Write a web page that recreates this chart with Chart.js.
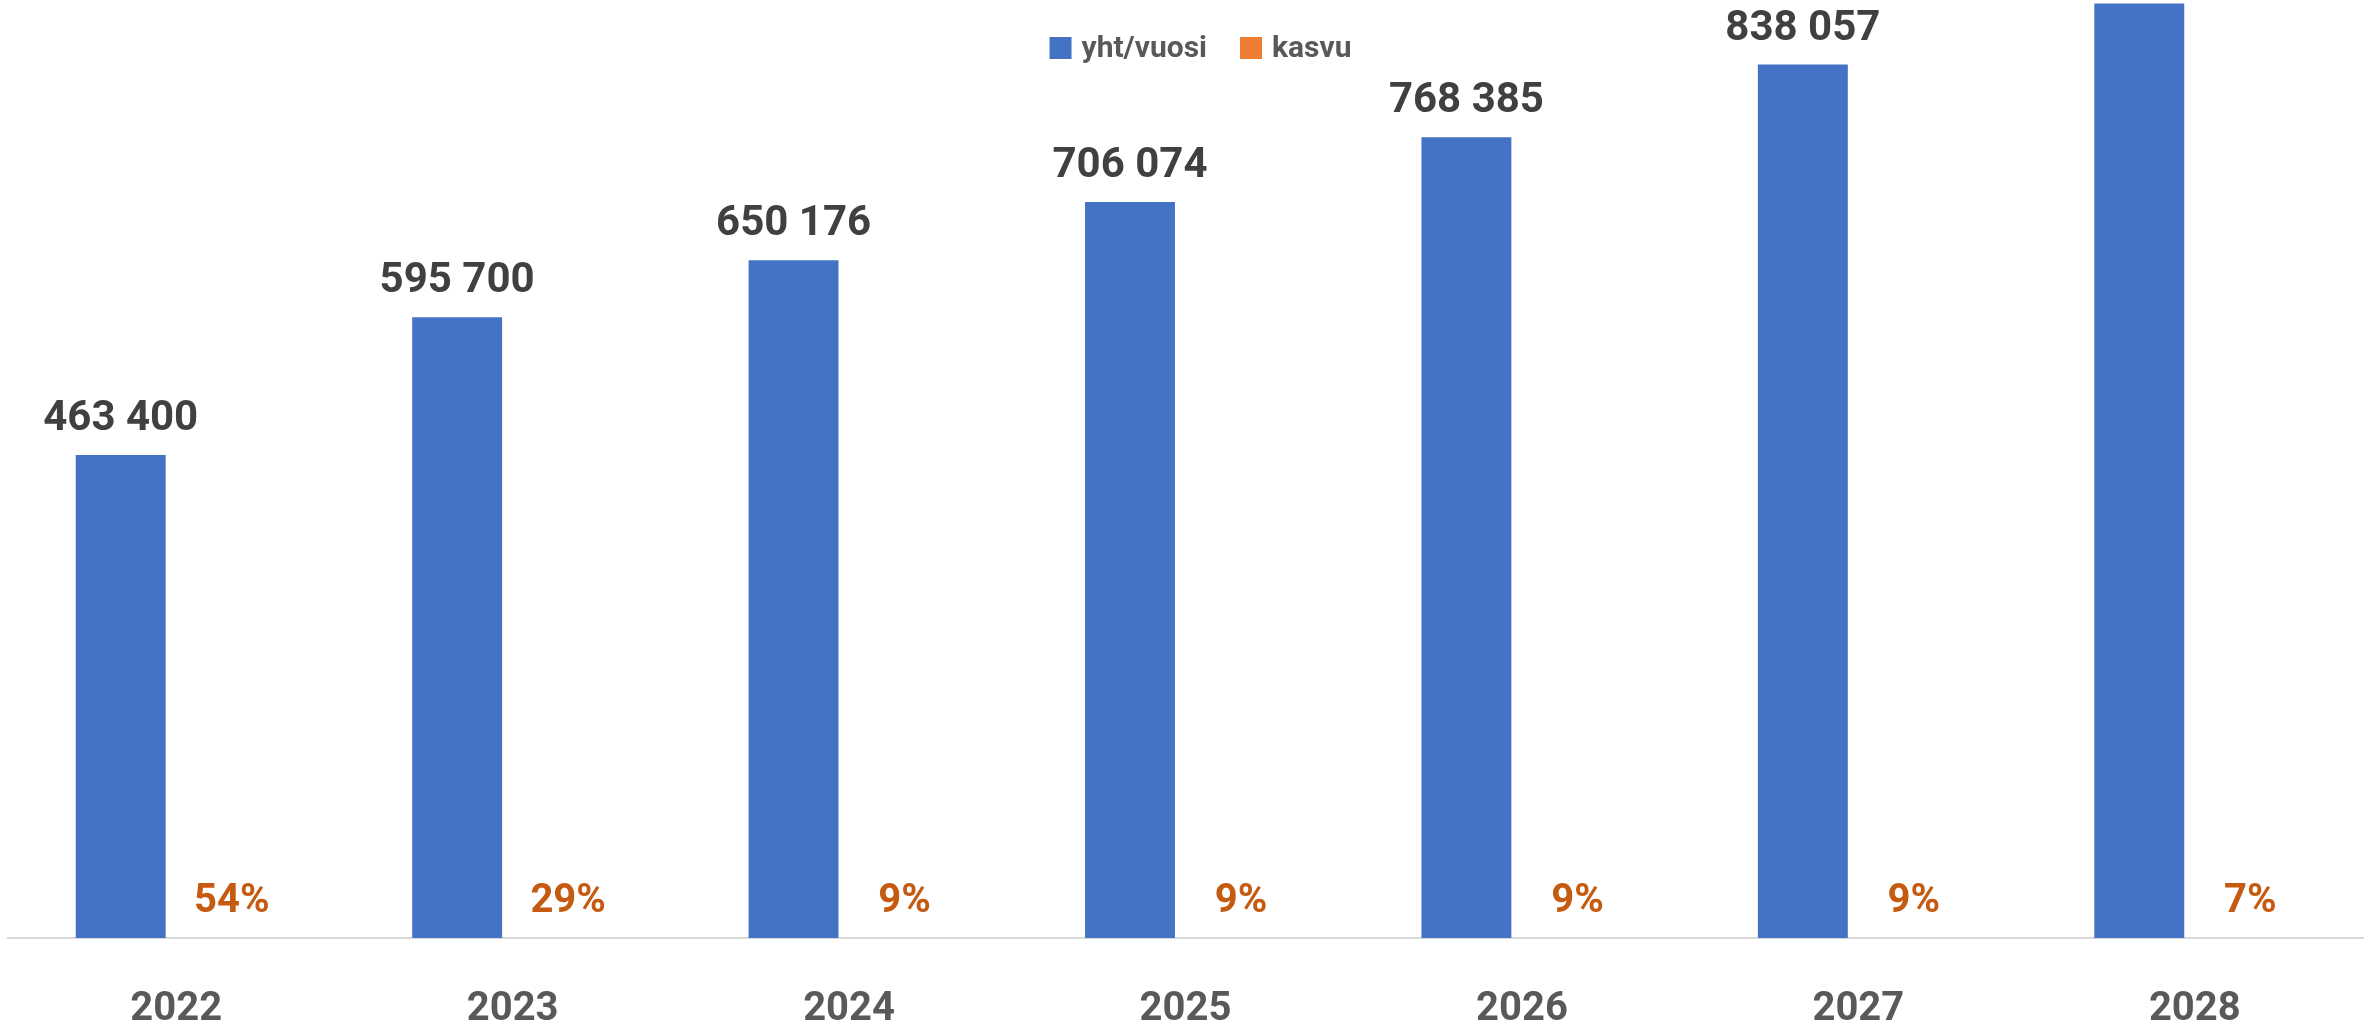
<!DOCTYPE html>
<html lang="fi">
<head>
  <meta charset="UTF-8">
  <title>yht/vuosi ja kasvu</title>
  <style>
    html, body { margin: 0; padding: 0; background: #fff; overflow: hidden; }
    #chart { display: block; }
  </style>
</head>
<body>
  <canvas id="chart" width="2379" height="1025"></canvas>

  <script src="https://cdn.jsdelivr.net/npm/chart.js"></script>
  <script>
    // data
    const years = ['2022', '2023', '2024', '2025', '2026', '2027', '2028'];
    const totals = [463400, 595700, 650176, 706074, 768385, 838057, 896721];
    const growthPct = [54, 29, 9, 9, 9, 9, 7];

    const FONT = 'Roboto, "Noto Sans", sans-serif';

    function fmt(n) {
      return String(n).replace(/\B(?=(\d{3})+(?!\d))/g, ' ');
    }

    // value labels above the blue bars, percentages just above the axis
    const barLabels = {
      id: 'barLabels',
      afterDatasetsDraw(chart) {
        const ctx = chart.ctx;
        const blue = chart.getDatasetMeta(0);
        const orange = chart.getDatasetMeta(1);
        ctx.save();
        ctx.textAlign = 'center';
        ctx.textBaseline = 'alphabetic';

        ctx.font = 'bold 42px ' + FONT;
        ctx.fillStyle = '#404040';
        blue.data.forEach((bar, i) => {
          ctx.fillText(fmt(totals[i]), bar.x, bar.y - 25);
        });

        ctx.font = 'bold 40px ' + FONT;
        ctx.fillStyle = '#C55A11';
        orange.data.forEach((bar, i) => {
          ctx.fillText(growthPct[i] + '%', bar.x, bar.y - 26);
        });
        ctx.restore();
      }
    };

    // legend drawn over the top of the plot, like the original
    const topLegend = {
      id: 'topLegend',
      afterDraw(chart) {
        const ctx = chart.ctx;
        const sets = chart.data.datasets;
        const box = 22, gapText = 10, gapItem = 33, cy = 48;
        ctx.save();
        ctx.font = 'bold 30px ' + FONT;
        ctx.textBaseline = 'middle';
        ctx.textAlign = 'left';
        const widths = sets.map(ds => ctx.measureText(ds.label).width);
        let total = 0;
        widths.forEach((w, i) => { total += box + gapText + w + (i ? gapItem : 0); });
        let x = (chart.chartArea.left + chart.chartArea.right) / 2 + 15 - total / 2;
        sets.forEach((ds, i) => {
          ctx.fillStyle = ds.backgroundColor;
          ctx.fillRect(x, cy - box / 2, box, box);
          x += box + gapText;
          ctx.fillStyle = '#595959';
          ctx.fillText(ds.label, x, cy + 1);
          x += widths[i] + gapItem;
        });
        ctx.restore();
      }
    };

    new Chart(document.getElementById('chart'), {
      type: 'bar',
      data: {
        labels: years,
        datasets: [
          {
            label: 'yht/vuosi',
            data: totals,
            backgroundColor: '#4472C4',
            borderWidth: 0
          },
          {
            label: 'kasvu',
            data: growthPct.map(v => v / 100),
            backgroundColor: '#ED7D31',
            borderWidth: 0
          }
        ]
      },
      options: {
        responsive: false,
        animation: false,
        categoryPercentage: 0.66,
        barPercentage: 0.81,
        layout: {
          padding: { left: 8, right: 16, top: 0, bottom: -49 }
        },
        plugins: {
          legend: { display: false },
          tooltip: { enabled: false }
        },
        scales: {
          x: {
            grid: { display: false },
            border: { display: true, color: '#D9D9D9', width: 2 },
            ticks: {
              color: '#595959',
              padding: 40,
              font: { family: FONT, size: 40, weight: 'bold' }
            }
          },
          y: {
            display: false,
            min: 0,
            max: 900000
          }
        }
      },
      plugins: [barLabels, topLegend]
    });
  </script>
</body>
</html>
